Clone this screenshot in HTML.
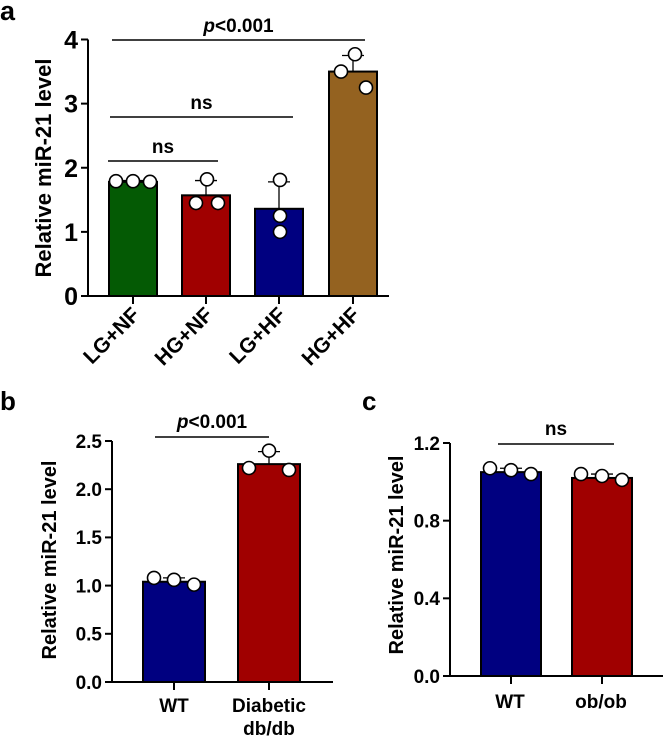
<!DOCTYPE html>
<html><head><meta charset="utf-8"><style>
html,body{margin:0;padding:0;background:#fff;}
svg{display:block;font-family:"Liberation Sans",Arial,sans-serif;font-weight:bold;}
</style></head><body>
<svg id="fig" width="664" height="737" viewBox="0 0 664 737" xmlns="http://www.w3.org/2000/svg"></svg>
<script>
// Panel a data
const aCategories = ["LG+NF","HG+NF","LG+HF","HG+HF"];
const aMeans = [1.78, 1.57, 1.36, 3.5];
const aErrTop = [1.80, 1.80, 1.78, 3.75];
const aPoints = [[1.79,1.79,1.78],[1.45,1.82,1.45],[1.25,1.81,1.0],[3.5,3.77,3.25]];
const aTicks = [0,1,2,3,4];
const aColors = ["#045a04","#a00000","#000080","#946220"];
// Panel b data
const bCategories = [["WT"],["Diabetic","db/db"]];
const bMeans = [1.04, 2.26];
const bErrTop = [1.08, 2.39];
const bPoints = [[1.08,1.06,1.01],[2.22,2.4,2.2]];
const bTicks = ["0.0","0.5","1.0","1.5","2.0","2.5"];
// Panel c data
const cCategories = [["WT"],["ob/ob"]];
const cMeans = [1.05, 1.02];
const cErrTop = [1.07, 1.04];
const cPoints = [[1.07,1.06,1.04],[1.04,1.03,1.01]];
const cTicks = ["0.0","0.4","0.8","1.2"];

const svg = document.getElementById('fig');
const NS = "http://www.w3.org/2000/svg";
function mk(tag, attrs, parent){const e=document.createElementNS(NS,tag);for(const k in attrs)e.setAttribute(k,attrs[k]);(parent||svg).appendChild(e);return e;}
function txt(s, attrs, parent){const e=mk('text',attrs,parent);e.textContent=s;return e;}

function panel(cfg){
  const g = mk('g',{});
  
  
  const y = v => cfg.y0 - (v - 0) / cfg.ymax * (cfg.y0 - cfg.ytop);
  cfg.means.forEach((m,i)=>{
    const x0=cfg.barL[i], w=cfg.barW;
    const r=mk('rect',{x:x0,y:y(m),width:w,height:cfg.y0-y(m),fill:cfg.colors[i],stroke:'#000','stroke-width':2},g);
    
    
    const cx=x0+w/2;
    const el=mk('line',{x1:cx,x2:cx,y1:y(m),y2:y(cfg.err[i]),stroke:'#000','stroke-width':1.3},g);
    
    
    mk('line',{x1:cx-11,x2:cx+11,y1:y(cfg.err[i]),y2:y(cfg.err[i]),stroke:'#000','stroke-width':1.3},g);
    cfg.points[i].forEach((p,j)=>{
      const dx = Array.isArray(cfg.dx[0]) ? cfg.dx[i][j] : cfg.dx[j];
      const c=mk('circle',{cx:cx+dx,cy:y(p),r:cfg.pr,fill:'#fff',stroke:'#000','stroke-width':1.6},g);
      
      
    });
  });
  const ya=mk('line',{x1:cfg.ax,x2:cfg.ax,y1:cfg.ytop,y2:cfg.y0+1,stroke:'#000','stroke-width':2},g);
  
  
  const xa=mk('line',{x1:cfg.ax-7,x2:cfg.axEnd,y1:cfg.y0,y2:cfg.y0,stroke:'#000','stroke-width':2},g);
  
  
  cfg.ticks.forEach(t=>{
    const v=parseFloat(t);
    mk('line',{x1:cfg.ax-7,x2:cfg.ax,y1:y(v),y2:y(v),stroke:'#000','stroke-width':2},g);
    const tl=txt(String(t),{x:cfg.ax-10,y:y(v)+cfg.tfs*0.36,'text-anchor':'end','font-size':cfg.tfs},g);
    
    
  });
  cfg.means.forEach((m,i)=>{
    const cx=cfg.barL[i]+cfg.barW/2;
    mk('line',{x1:cx,x2:cx,y1:cfg.y0,y2:cfg.y0+8,stroke:'#000','stroke-width':2},g);
  });
  const yt=txt('Relative miR-21 level',{x:0,y:0,'text-anchor':'middle','font-size':cfg.yfs,transform:`translate(${cfg.ytx},${cfg.yty}) rotate(-90)`},g);
  
  
  return {g,y};
}

// Panel a
const pa = panel({name:'panel-a',means:aMeans,err:aErrTop,points:aPoints,colors:aColors,ticks:aTicks,
  ymax:4,y0:296,ytop:39.5,ax:88,axEnd:389,barL:[109,182,255,329],barW:48,
  dx:[[-17,0,17],[-10,1,12],[1,1,1],[-12,2,13]],pr:6.5,
  tfs:25,yfs:22,ytx:51,yty:168});
aCategories.forEach((c,i)=>{
  const cx=[133,206,279,353][i];
  const t=txt(c,{x:0,y:0,'text-anchor':'end','font-size':21,transform:`translate(${cx+8},${316}) rotate(-45)`},pa.g);
  
  
});
[[112,40,365,'p<0.001'],[110,117,293,'ns'],[108,161,218,'ns']].forEach(s=>{
  const l=mk('line',{x1:s[0],x2:s[2],y1:s[1],y2:s[1],stroke:'#000','stroke-width':1.6},pa.g);
  
  
  const t=mk('text',{x:(s[0]+s[2])/2,y:s[1]-8,'text-anchor':'middle','font-size':19},pa.g);
  
  
  if(s[3].startsWith('p')){const it=document.createElementNS(NS,'tspan');it.setAttribute('font-style','italic');it.textContent='p';t.appendChild(it);t.appendChild(document.createTextNode('<0.001'));}
  else t.textContent=s[3];
});
const la=txt('a',{x:0,y:20,'font-size':27},svg);



// Panel b
const pb = panel({name:'panel-b',means:bMeans,err:bErrTop,points:bPoints,colors:["#000080","#a00000"],ticks:bTicks,
  ymax:2.5,y0:682,ytop:441,ax:112,axEnd:333,barL:[143,238],barW:62,dx:[-20,0,20],pr:6.5,
  tfs:19,yfs:20,ytx:56,yty:560});
bCategories.forEach((c,i)=>{
  const cx=[174,269][i];
  c.forEach((s,j)=>{
    const t=txt(s,{x:cx,y:712+j*23,'text-anchor':'middle','font-size':19},pb.g);
    
    
  });
});
{
  const l=mk('line',{x1:155,x2:269,y1:437,y2:437,stroke:'#000','stroke-width':1.6},pb.g);
  
  
  const t=mk('text',{x:212,y:428,'text-anchor':'middle','font-size':19},pb.g);
  
  
  const it=document.createElementNS(NS,'tspan');it.setAttribute('font-style','italic');it.textContent='p';t.appendChild(it);t.appendChild(document.createTextNode('<0.001'));
}
const lb=txt('b',{x:0,y:410,'font-size':26},svg);



// Panel c
const pc = panel({name:'panel-c',means:cMeans,err:cErrTop,points:cPoints,colors:["#000080","#a00000"],ticks:cTicks,
  ymax:1.2,y0:676,ytop:443,ax:450,axEnd:663,barL:[481,572],barW:60,dx:[-21,0,20],pr:6.5,
  tfs:19,yfs:20,ytx:403,yty:555});
cCategories.forEach((c,i)=>{
  const cx=[510,601][i];
  c.forEach((s,j)=>{
    const t=txt(s,{x:cx,y:708+j*23,'text-anchor':'middle','font-size':19},pc.g);
    
    
  });
});
{
  const l=mk('line',{x1:498,x2:614,y1:444,y2:444,stroke:'#000','stroke-width':1.6},pc.g);
  
  
  const t=txt('ns',{x:556,y:435,'text-anchor':'middle','font-size':19},pc.g);
  
  
}
const lc=txt('c',{x:362,y:410,'font-size':26},svg);


</script>
</body></html>
